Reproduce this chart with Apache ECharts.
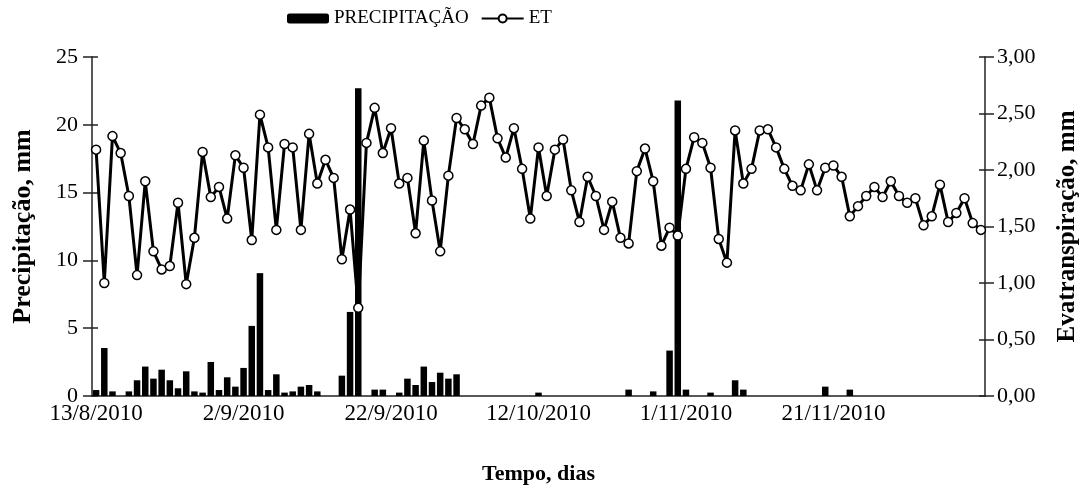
<!DOCTYPE html>
<html>
<head>
<meta charset="utf-8">
<script src="https://cdn.jsdelivr.net/npm/echarts@6/dist/echarts.min.js"></script>
<style>
    html, body { margin: 0; padding: 0; background: #fff; }
    #chart { width: 1080px; height: 491px; }
</style>
</head>
<body>
<div id="chart"></div>
<script>
// datas, one per day of record
var tickLabels = ['13/8/2010', '2/9/2010', '22/9/2010', '12/10/2010', '1/11/2010', '21/11/2010'];
var labelStep = 18;

var et = [2.18, 1.00, 2.30, 2.15, 1.77, 1.07, 1.90, 1.28, 1.12, 1.15,
    1.71, 0.99, 1.40, 2.16, 1.76, 1.85, 1.57, 2.13, 2.02, 1.38,
    2.49, 2.20, 1.47, 2.23, 2.20, 1.47, 2.32, 1.88, 2.09, 1.93,
    1.21, 1.65, 0.78, 2.24, 2.55, 2.15, 2.37, 1.88, 1.93, 1.44,
    2.26, 1.73, 1.28, 1.95, 2.46, 2.36, 2.23, 2.57, 2.64, 2.28,
    2.11, 2.37, 2.01, 1.57, 2.20, 1.77, 2.18, 2.27, 1.82, 1.54,
    1.94, 1.77, 1.47, 1.72, 1.40, 1.35, 1.99, 2.19, 1.90, 1.33,
    1.49, 1.42, 2.01, 2.29, 2.24, 2.02, 1.39, 1.18, 2.35, 1.88,
    2.01, 2.35, 2.36, 2.20, 2.01, 1.86, 1.82, 2.05, 1.82, 2.02,
    2.04, 1.94, 1.59, 1.68, 1.77, 1.85, 1.76, 1.90, 1.77, 1.71,
    1.75, 1.51, 1.59, 1.87, 1.54, 1.62, 1.75, 1.53, 1.47];

var precip = [0.44, 3.54, 0.34, 0, 0.34, 1.16, 2.17, 1.28, 1.94, 1.16,
    0.57, 1.82, 0.34, 0.25, 2.51, 0.44, 1.38, 0.69, 2.07, 5.17,
    9.06, 0.44, 1.60, 0.25, 0.34, 0.69, 0.81, 0.34, 0, 0,
    1.50, 6.20, 22.7, 0, 0.47, 0.47, 0, 0.25, 1.28, 0.81,
    2.17, 1.03, 1.72, 1.28, 1.60, 0, 0, 0, 0, 0,
    0, 0, 0, 0, 0.25, 0, 0, 0, 0, 0,
    0, 0, 0, 0, 0, 0.47, 0, 0, 0.34, 0,
    3.35, 21.8, 0.47, 0, 0, 0.25, 0, 0, 1.16, 0.47,
    0, 0, 0, 0, 0, 0, 0, 0, 0, 0.69,
    0, 0, 0.47, 0, 0, 0, 0, 0, 0, 0,
    0, 0, 0, 0, 0, 0, 0, 0, 0];

var days = et.map(function (v, i) { return String(i + 1); });

var myChart = echarts.init(document.getElementById('chart'));
var serif = 'Liberation Serif';
var axisColor = '#222';

function comma(v) {
    return v.toFixed(2).replace('.', ',');
}

// eixo com tracinhos para dentro (o Excel cruza os tracinhos)
function innerTicks(pos, max, interval) {
    return {
        type: 'value',
        position: pos,
        min: 0,
        max: max,
        interval: interval,
        axisLine: { show: false },
        axisTick: { show: true, inside: true, length: 6, lineStyle: { color: axisColor, width: 1.5 } },
        axisLabel: { show: false },
        splitLine: { show: false }
    };
}

var option = {
    animation: false,
    backgroundColor: '#fff',
    textStyle: { fontFamily: serif, color: '#000' },
    legend: {
        left: 282,
        top: 4,
        itemWidth: 42,
        itemHeight: 10,
        itemGap: 12,
        textStyle: { fontFamily: serif, fontSize: 19, color: '#000' },
        data: ['PRECIPITAÇÃO', 'ET']
    },
    grid: {
        left: 92,
        right: 95,
        top: 57,
        bottom: 95,
        outerBoundsMode: 'none'
    },
    xAxis: {
        type: 'category',
        boundaryGap: true,
        data: days,
        name: 'Tempo, dias',
        nameLocation: 'middle',
        nameGap: 67,
        nameTextStyle: { fontFamily: serif, fontSize: 22, fontWeight: 'bold', color: '#000' },
        axisLine: { lineStyle: { color: axisColor, width: 1.5 } },
        axisTick: { show: false },
        axisLabel: {
            interval: labelStep - 1,
            margin: 6,
            fontFamily: serif,
            fontSize: 23,
            color: '#000',
            formatter: function (v, i) {
                return tickLabels[i / labelStep] || '';
            }
        }
    },
    yAxis: [{
        type: 'value',
        position: 'left',
        min: 0,
        max: 25,
        interval: 5,
        name: 'Precipitação, mm',
        nameLocation: 'middle',
        nameRotate: 90,
        nameGap: 56,
        nameTextStyle: { fontFamily: serif, fontSize: 26, fontWeight: 'bold', color: '#000' },
        axisLine: { show: true, lineStyle: { color: axisColor, width: 1.5 } },
        axisTick: { show: true, length: 9, lineStyle: { color: axisColor, width: 1.5 } },
        axisLabel: { margin: 14, fontFamily: serif, fontSize: 22, color: '#000' },
        splitLine: { show: false }
    }, {
        type: 'value',
        position: 'right',
        min: 0,
        max: 3,
        interval: 0.5,
        name: 'Evatranspiração, mm',
        nameLocation: 'middle',
        nameRotate: 90,
        nameGap: 70,
        nameTextStyle: { fontFamily: serif, fontSize: 25, fontWeight: 'bold', color: '#000' },
        axisLine: { show: true, lineStyle: { color: axisColor, width: 1.5 } },
        axisTick: { show: true, length: 9, lineStyle: { color: axisColor, width: 1.5 } },
        axisLabel: { margin: 12, fontFamily: serif, fontSize: 22, color: '#000', formatter: comma },
        splitLine: { show: false }
    },
        innerTicks('left', 25, 5),
        innerTicks('right', 3, 0.5)
    ],
    series: [{
        name: 'PRECIPITAÇÃO',
        type: 'bar',
        yAxisIndex: 0,
        barWidth: 6.5,
        itemStyle: { color: '#000' },
        data: precip
    }, {
        name: 'ET',
        type: 'line',
        yAxisIndex: 1,
        symbol: 'circle',
        symbolSize: 9,
        showAllSymbol: true,
        lineStyle: { color: '#000', width: 3 },
        itemStyle: { color: '#fff', borderColor: '#000', borderWidth: 1.5 },
        data: et
    }]
};

myChart.setOption(option);
</script>
</body>
</html>
